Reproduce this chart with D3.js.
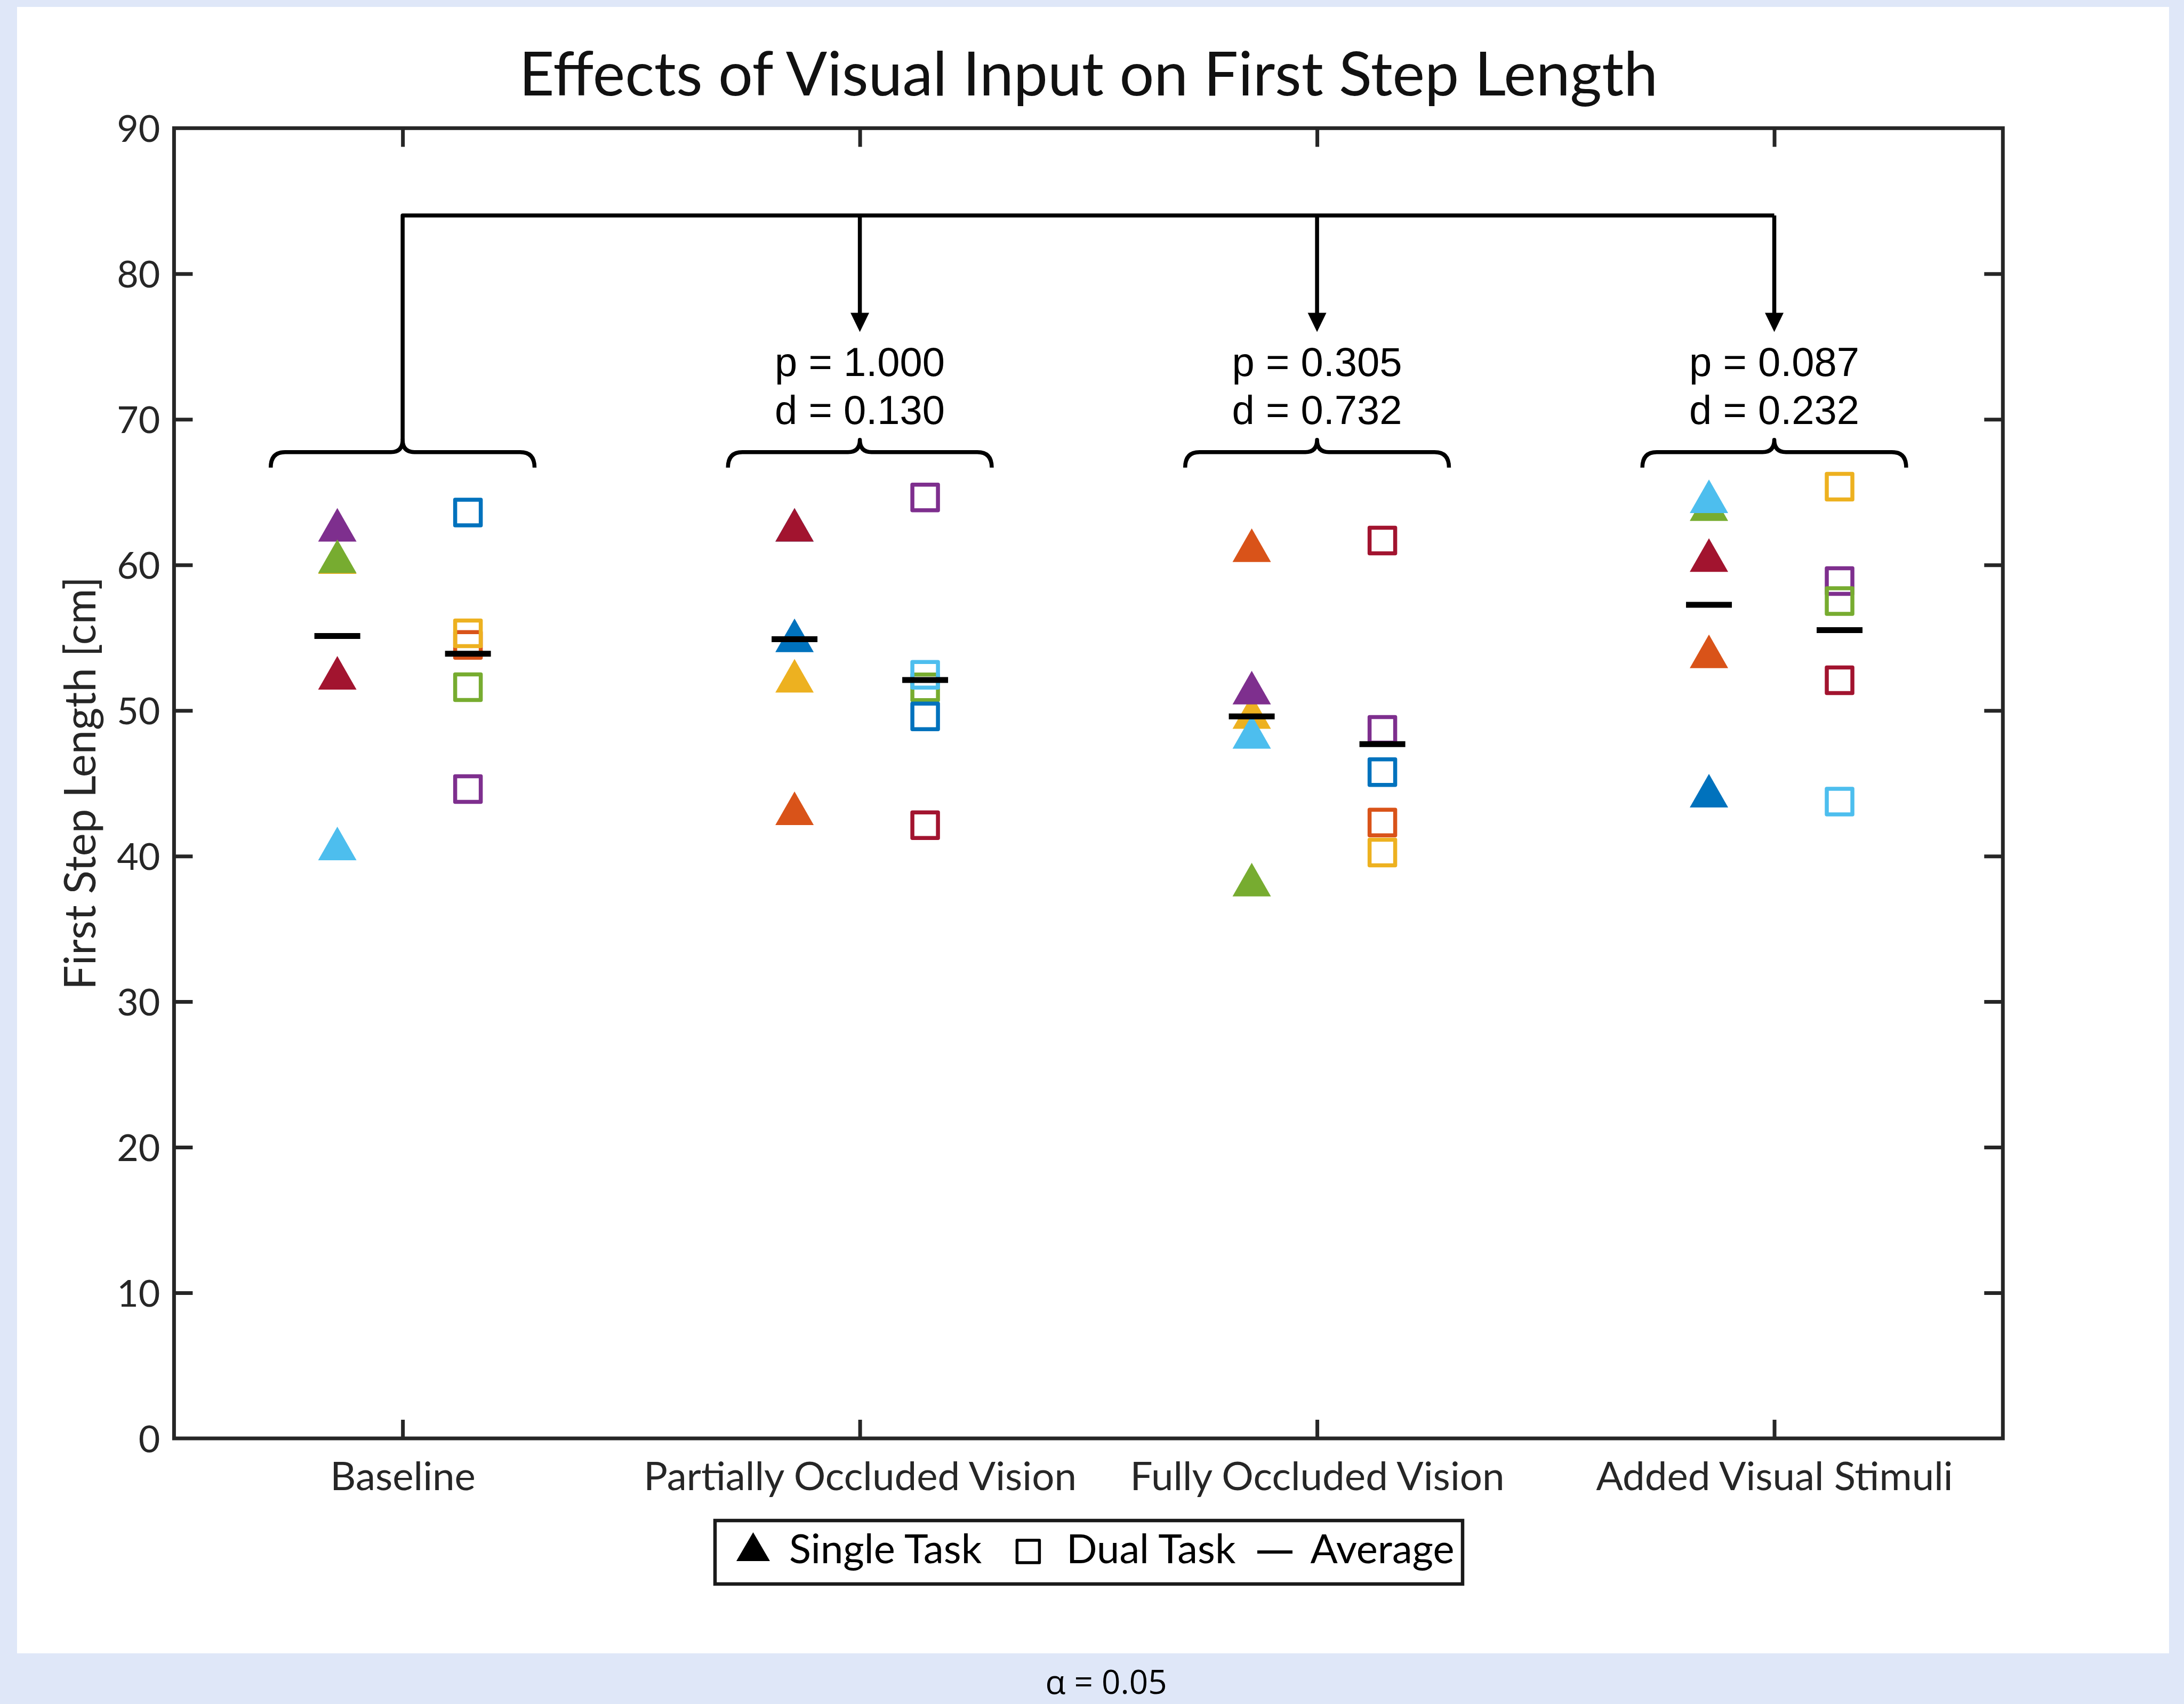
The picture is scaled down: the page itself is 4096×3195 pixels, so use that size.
<!DOCTYPE html>
<html><head><meta charset="utf-8">
<script src="https://cdn.jsdelivr.net/npm/d3@7"></script>
<style>html,body{margin:0;padding:0;background:#dfe7f8;overflow:hidden} svg{display:block}</style>
</head><body>
<svg id="chart" width="4096" height="3195"></svg>
<script>
// ---------------- data ----------------
const categories = ["Baseline", "Partially Occluded Vision", "Fully Occluded Vision", "Added Visual Stimuli"];
const palette = {blue:"#0072BD", orange:"#D95319", yellow:"#EDB120", purple:"#7E2F8E", green:"#77AC30", cyan:"#4DBEEE", darkred:"#A2142F"};
const singleColors = [
  ["yellow","purple","green","cyan","darkred"],
  ["cyan","darkred","blue","orange","yellow"],
  ["orange","yellow","purple","green","cyan"],
  ["green","cyan","darkred","blue","orange"]];
const singleValues = [
  [60.15, 62.37, 60.21, 40.48, 52.2],
  [62.37, 62.37, 54.78, 42.9, 52.0],
  [60.97, 49.51, 51.19, 38.0, 48.15],
  [63.79, 64.33, 60.29, 44.11, 53.68]];
const dualColors = [
  ["blue","orange","yellow","purple","green"],
  ["purple","green","cyan","darkred","blue"],
  ["darkred","blue","orange","yellow","purple"],
  ["yellow","purple","green","cyan","darkred"]];
const dualValues = [
  [63.6, 54.5, 55.3, 44.6, 51.6],
  [64.63, 51.59, 52.45, 42.12, 49.59],
  [61.67, 45.77, 42.30, 40.24, 48.67],
  [65.37, 58.89, 57.52, 43.74, 52.08]];
const singleAverages = [55.12, 54.9, 49.59, 57.26];
const dualAverages = [53.9, 52.09, 47.69, 55.52];
const pLabels = ["p = 1.000", "p = 0.305", "p = 0.087"];
const dLabels = ["d = 0.130", "d = 0.732", "d = 0.232"];
const yTicks = [0, 10, 20, 30, 40, 50, 60, 70, 80, 90];
const legendLabels = ["Single Task", "Dual Task", "Average"];
const titleText = "Effects of Visual Input on First Step Length";
const yLabelText = "First Step Length [cm]";
const alphaLabel = "α = 0.05";

(function(){
// ---------------- layout ----------------
const W = 4096, H = 3195;
const pL = 326.4, pR = 3756.3, pT = 240.3, pB = 2697;
const axisColor = "#262626";
const sansFont = "Lato, 'Open Sans', sans-serif";
const helvFont = "'Liberation Sans', Arial, sans-serif";

const svg = d3.select("#chart");
svg.append("rect").attr("x",0).attr("y",0).attr("width",W).attr("height",H).attr("fill","#dfe7f8");
svg.append("rect").attr("x",32).attr("y",13).attr("width",4036).attr("height",3087).attr("fill","#ffffff");

const x = d3.scaleLinear().domain([0.5, 4.5]).range([pL, pR]);
const y = d3.scaleLinear().domain([0, 90]).range([pB, pT]);
const off = 1/7;

function fitGroup(sel, targetTotal) {
  let tot = 0; sel.each(function(){ tot += this.getComputedTextLength(); });
  const fs = parseFloat(sel.attr("font-size"));
  if (tot > 0) sel.attr("font-size", fs * targetTotal / tot);
}

// axes
const tickLen = 35;
const gx = svg.append("g").attr("transform", `translate(0,${pB})`)
  .call(d3.axisBottom(x).tickValues([1,2,3,4]).tickFormat((d,i)=>categories[i]).tickSizeInner(-tickLen).tickSizeOuter(0));
const gxTop = svg.append("g").attr("transform", `translate(0,${pT})`)
  .call(d3.axisTop(x).tickValues([1,2,3,4]).tickFormat("").tickSizeInner(-tickLen).tickSizeOuter(0));
const gy = svg.append("g").attr("transform", `translate(${pL},0)`)
  .call(d3.axisLeft(y).tickValues(yTicks).tickFormat(d3.format("d")).tickSizeInner(-tickLen).tickSizeOuter(0));
const gyR = svg.append("g").attr("transform", `translate(${pR},0)`)
  .call(d3.axisRight(y).tickValues(yTicks).tickFormat("").tickSizeInner(-tickLen).tickSizeOuter(0));
[gx, gxTop, gy, gyR].forEach(g => {
  g.select(".domain").remove();
  g.selectAll(".tick line").attr("stroke", axisColor).attr("stroke-width", 7);
});
gy.selectAll(".tick").filter(d => d === 0 || d === 90).select("line").remove();
gyR.selectAll(".tick").filter(d => d === 0 || d === 90).select("line").remove();
gx.selectAll(".tick text").attr("y", 97).attr("dy", "0").attr("font-family", sansFont)
  .attr("font-size", 75).attr("fill", axisColor);
fitGroup(gx.selectAll(".tick text"), 266 + 809 + 705 + 676);
gy.selectAll(".tick text").attr("x", -26).attr("dy", "0.36em").attr("font-family", sansFont)
  .attr("font-size", 70).attr("fill", axisColor);

svg.append("rect").attr("x", pL).attr("y", pT).attr("width", pR-pL).attr("height", pB-pT)
  .attr("fill","none").attr("stroke", axisColor).attr("stroke-width", 7);

// title & y label
const title = svg.append("text").attr("x", (pL+pR)/2).attr("y", 179).attr("text-anchor","middle")
  .attr("font-family", sansFont).attr("font-size", 110).attr("fill", "#111").text(titleText);
fitGroup(title, 2136);
const ylab = svg.append("text").attr("transform", `translate(179,${y(45)}) rotate(-90)`).attr("text-anchor","middle")
  .attr("font-family", sansFont).attr("font-size", 80).attr("fill", axisColor).text(yLabelText);
fitGroup(ylab, 775);

// comparison brackets
const ann = svg.append("g").attr("fill","none").attr("stroke","#000").attr("stroke-width",7.5).attr("stroke-linejoin","round");
const bracketTop = 84.0, arrowTip = 76.0, braceLevel = 67.75;
const braceHalf = 0.2885, braceEndDrop = 29, braceTipRise = 23, braceR = 27, braceTipW = 22;
ann.append("path").attr("d", `M${x(1)},${y(braceLevel)-braceTipRise} L${x(1)},${y(bracketTop)} L${x(4)},${y(bracketTop)}`);
[2,3,4].forEach(c => {
  const tipY = y(arrowTip);
  ann.append("line").attr("x1", x(c)).attr("x2", x(c)).attr("y1", y(bracketTop)).attr("y2", tipY - 30);
  svg.append("path").attr("d", `M${x(c)-17.5},${tipY-36} L${x(c)+17.5},${tipY-36} L${x(c)},${tipY} Z`).attr("fill","#000");
});
[1,2,3,4].forEach(c => {
  const cx = x(c), hw = x(c + braceHalf) - x(c), by = y(braceLevel);
  const d = `M${cx-hw},${by+braceEndDrop} Q${cx-hw},${by} ${cx-hw+braceR},${by} L${cx-braceTipW},${by} Q${cx},${by} ${cx},${by-braceTipRise} ` +
            `Q${cx},${by} ${cx+braceTipW},${by} L${cx+hw-braceR},${by} Q${cx+hw},${by} ${cx+hw},${by+braceEndDrop}`;
  ann.append("path").attr("d", d);
});
const pLevel = 72.97, dLevel = 69.69;
[2,3,4].forEach((c,i) => {
  svg.append("text").attr("x", x(c)).attr("y", y(pLevel)).attr("text-anchor","middle")
    .attr("font-family", helvFont).attr("font-size", 76).attr("fill","#000").text(pLabels[i]);
  svg.append("text").attr("x", x(c)).attr("y", y(dLevel)).attr("text-anchor","middle")
    .attr("font-family", helvFont).attr("font-size", 76).attr("fill","#000").text(dLabels[i]);
});

// markers
const triW = 72, triH = 63, sq = 48;
const marks = svg.append("g");
categories.forEach((cat, ci) => {
  const c = ci + 1;
  singleValues[ci].forEach((v, k) => {
    const px = x(c - off), py = y(v), col = palette[singleColors[ci][k]];
    marks.append("path")
      .attr("d", `M${px},${py - triH*2/3} L${px + triW/2},${py + triH/3} L${px - triW/2},${py + triH/3} Z`)
      .attr("fill", col);
  });
  dualValues[ci].forEach((v, k) => {
    const px = x(c + off), py = y(v), col = palette[dualColors[ci][k]];
    marks.append("rect").attr("x", px - sq/2).attr("y", py - sq/2).attr("width", sq).attr("height", sq)
      .attr("fill","none").attr("stroke", col).attr("stroke-width", 7.5).attr("stroke-linejoin","round");
  });
});
const avgHalf = 43;
categories.forEach((cat, ci) => {
  const c = ci + 1;
  [[c - off, singleAverages[ci]], [c + off, dualAverages[ci]]].forEach(([cx, v]) => {
    marks.append("line").attr("x1", x(cx) - avgHalf).attr("x2", x(cx) + avgHalf)
      .attr("y1", y(v)).attr("y2", y(v)).attr("stroke", "#000").attr("stroke-width", 11);
  });
});

// legend
const lg = svg.append("g");
lg.append("rect").attr("x", 1341).attr("y", 2851).attr("width", 1402).attr("height", 119)
  .attr("fill","#fff").attr("stroke", "#1a1a1a").attr("stroke-width", 6.5);
lg.append("path").attr("d", "M1412.5,2873 L1444,2927 L1381,2927 Z").attr("fill","#000");
lg.append("rect").attr("x", 1928.4 - 21).attr("y", 2909 - 21).attr("width", 42).attr("height", 42)
  .attr("fill","none").attr("stroke","#000").attr("stroke-width", 5.5).attr("stroke-linejoin","round");
lg.append("line").attr("x1", 2358).attr("x2", 2424).attr("y1", 2910).attr("y2", 2910).attr("stroke","#000").attr("stroke-width", 6);
const lgX = [1480, 2000, 2457.4];
const lgText = lg.selectAll("text.lg").data(legendLabels).enter().append("text").attr("class","lg")
  .attr("x", (d,i) => lgX[i]).attr("y", 2931).attr("font-family", sansFont).attr("font-size", 74).attr("fill","#000")
  .text(d => d);
fitGroup(lgText, 365 + 312 + 272);

// alpha note
svg.append("text").attr("x", 2074.5).attr("y", 3176).attr("text-anchor","middle")
  .attr("font-family", "'Open Sans', 'Noto Sans', sans-serif").attr("font-size", 62).attr("fill","#000").text(alphaLabel);
})();
</script>
</body></html>
